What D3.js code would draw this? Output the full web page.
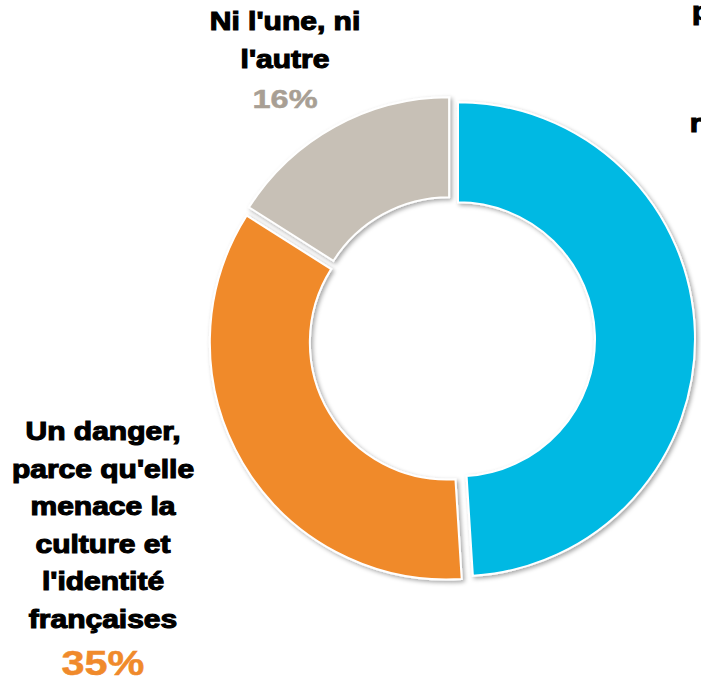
<!DOCTYPE html>
<html>
<head>
<meta charset="utf-8">
<script src="https://cdn.jsdelivr.net/npm/d3@7"></script>
<style>
  html, body { margin: 0; padding: 0; background: #fff; overflow: hidden; }
</style>
</head>
<body>
<svg id="chart"></svg>
<script>
// Data
const categories = ["Une chance", "Un danger", "Ni l'une, ni l'autre"];
const values = [49, 35, 16];
const colors = ["#00b9e3", "#f08a2b", "#c7c0b6"];
const pctColors = ["#00b9e3", "#f08a2b", "#a89f94"];
const labelLines = [
  ["Une chance,", "parce qu'elle", "est source", "d'avenir", "renouveau et", "culturel"],
  ["Un danger,", "parce qu'elle", "menace la", "culture et", "l'identité", "françaises"],
  ["Ni l'une, ni", "l'autre"]
];

const width = 701, height = 681;
const cx = 452, cy = 339.5;
const outerR = 237, innerR = 137;
const explode = 6;

const svg = d3.select("#chart")
  .attr("width", width)
  .attr("height", height);

// soft shadow under slices
const defs = svg.append("defs");
const f = defs.append("filter").attr("id", "shadow")
  .attr("x", "-20%").attr("y", "-20%").attr("width", "140%").attr("height", "140%");
f.append("feDropShadow")
  .attr("dx", 2).attr("dy", 2).attr("stdDeviation", 2)
  .attr("flood-color", "#000").attr("flood-opacity", 0.35);

const pie = d3.pie().sort(null).value(d => d);
const arcs = pie(values);
const arc = d3.arc().innerRadius(innerR).outerRadius(outerR);

const g = svg.append("g").attr("transform", `translate(${cx},${cy})`);

g.selectAll("path.slice")
  .data(arcs)
  .enter().append("path")
  .attr("class", "slice")
  .attr("d", arc)
  .attr("transform", d => {
    const a = (d.startAngle + d.endAngle) / 2;
    return `translate(${Math.sin(a) * explode},${-Math.cos(a) * explode})`;
  })
  .attr("fill", (d, i) => colors[i])
  .attr("stroke", "#fff")
  .attr("stroke-width", 2)
  .attr("filter", "url(#shadow)");

// Labels (positions of the label blocks)
const labelPos = [
  { x: 783, y: -18 },
  { x: 103, y: 440 },
  { x: 285, y: 30 }
];
const lineH = 37.6;

labelPos.forEach((p, i) => {
  const lines = labelLines[i];
  lines.forEach((t, j) => {
    svg.append("text")
      .attr("transform", `translate(${p.x},${p.y + j * lineH}) scale(1.2,1)`)
      .attr("text-anchor", "middle")
      .style("font-family", "'Liberation Sans', Arial, sans-serif")
      .style("font-weight", "bold")
      .style("font-size", "25px")
      .style("fill", "#000")
      .style("stroke", "#000")
      .style("stroke-width", 1.1)
      .text(t);
  });
  const big = i === 1;
  svg.append("text")
    .attr("transform", `translate(${p.x},${p.y + (lines.length - 1) * lineH + (big ? 47 : 40)}) scale(${big ? 1.15 : 1.25},1)`)
    .attr("text-anchor", "middle")
    .style("font-family", "'Liberation Sans', Arial, sans-serif")
    .style("font-weight", "bold")
    .style("font-size", big ? "36px" : "26px")
    .style("fill", pctColors[i])
    .style("stroke", pctColors[i])
    .style("stroke-width", 0.5)
    .text(values[i] + "%");
});
</script>
</body>
</html>
